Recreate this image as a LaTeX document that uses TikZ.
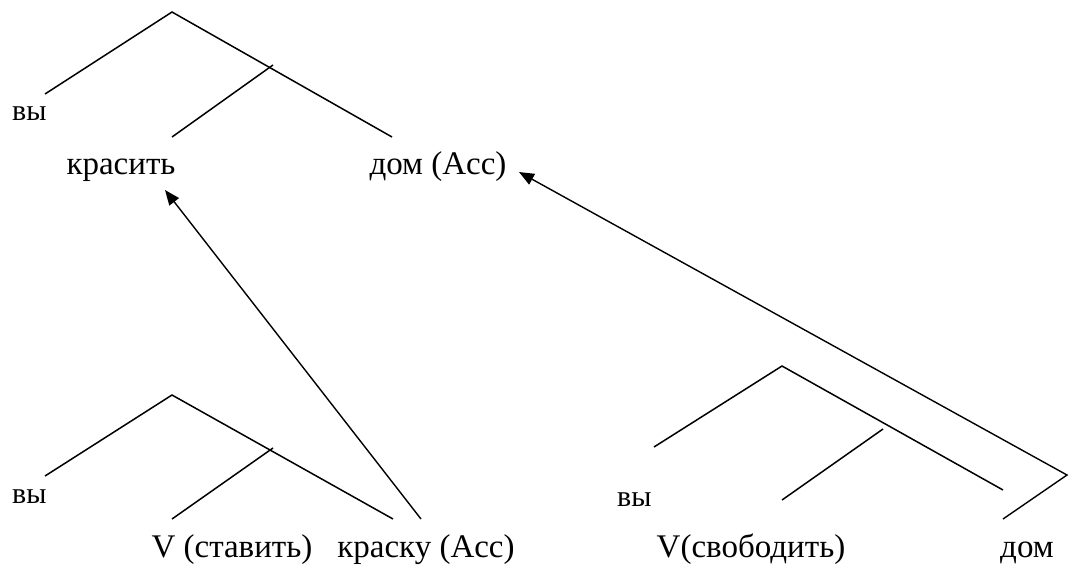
\documentclass[tikz,border=0pt]{standalone}
\usepackage{fontspec}
\setmainfont{Liberation Serif}
\usetikzlibrary{arrows.meta}
\tikzset{
  branch/.style={line width=1.5pt, line cap=butt},
  mover/.style={line width=1.4pt, -{Triangle[length=15pt,width=12pt]}},
  word/.style={inner sep=0pt, anchor=base, font=\fontsize{33}{38}\selectfont},
  small/.style={inner sep=0pt, anchor=base west, font=\fontsize{30}{34}\selectfont},
}
\begin{document}
\begin{tikzpicture}[x=1pt,y=-1pt]
\useasboundingbox (0,0) rectangle (1070,566);
% ---------- top tree ----------
\coordinate (t1apex) at (172,12);
\coordinate (t1l) at (45,94);
\coordinate (t1r) at (392,137);
\coordinate (t1mt) at (273,65);
\coordinate (t1mb) at (172,137);
\draw[branch] (t1l) -- (t1apex) -- (t1r);
\draw[branch] (t1mt) -- (t1mb);
\node[small] (vy1) at (12,120) {вы};
\node[word] (krasit) at (121,174) {красить};
\node[word] (domacc) at (438,174) {дом (Acc)};
% ---------- bottom-left tree ----------
\coordinate (t2apex) at (172,395);
\coordinate (t2l) at (45,476);
\coordinate (t2r) at (393,519);
\coordinate (t2mt) at (273,448);
\coordinate (t2mb) at (172,519);
\draw[branch] (t2l) -- (t2apex) -- (t2r);
\draw[branch] (t2mt) -- (t2mb);
\node[small] (vy2) at (12,503) {вы};
\node[word] (vstavit) at (232,557) {V (ставить)};
\node[word] (kraska) at (426,557) {краску (Acc)};
% ---------- bottom-right tree ----------
\coordinate (t3apex) at (782,366);
\coordinate (t3l) at (654,447);
\coordinate (t3r) at (1003,490);
\coordinate (t3mt) at (883,429);
\coordinate (t3mb) at (782,500);
\draw[branch] (t3l) -- (t3apex) -- (t3r);
\draw[branch] (t3mt) -- (t3mb);
\node[small] (vy3) at (617,506) {вы};
\node[word] (vsvob) at (751,557) {V(свободить)};
\node[word] (dom) at (1027,557) {дом};
% ---------- movement arrows ----------
\coordinate (a1s) at (421,519);
\coordinate (a1e) at (165,190);
\draw[mover] (a1s) -- (a1e);
\coordinate (a2s) at (1003,519);
\coordinate (a2c) at (1067,475);
\coordinate (a2e) at (519,172);
\draw[mover] (a2s) -- (a2c) -- (a2e);
\end{tikzpicture}
\end{document}
